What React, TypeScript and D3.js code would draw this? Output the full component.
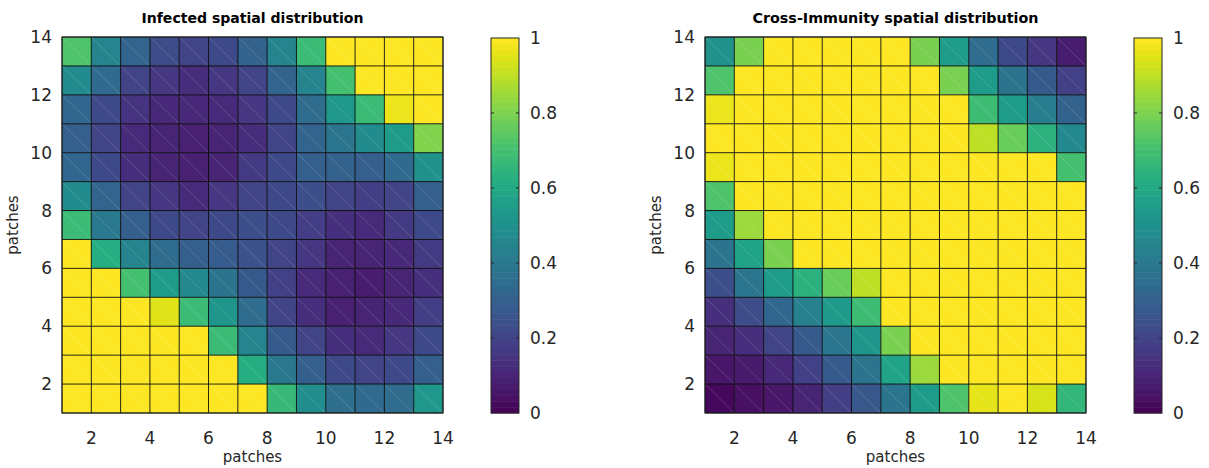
import React from 'react';
import * as d3 from 'd3';

// patch index grid (vertices 1..14, 13x13 cells)
const patchTicks = [2, 4, 6, 8, 10, 12, 14];
const colorTicks = [0, 0.2, 0.4, 0.6, 0.8, 1];

// rows listed from top (y 13..14) to bottom (y 1..2), columns x 1..13
const infected = [
  [0.72, 0.45, 0.32, 0.23, 0.2, 0.22, 0.31, 0.45, 0.68, 1, 1, 1, 1],
  [0.48, 0.34, 0.2, 0.16, 0.13, 0.16, 0.2, 0.32, 0.45, 0.7, 1, 1, 1],
  [0.33, 0.22, 0.15, 0.11, 0.11, 0.12, 0.16, 0.22, 0.35, 0.53, 0.68, 0.97, 1],
  [0.3, 0.2, 0.12, 0.1, 0.09, 0.1, 0.13, 0.2, 0.32, 0.39, 0.48, 0.55, 0.81],
  [0.33, 0.22, 0.13, 0.1, 0.09, 0.1, 0.17, 0.22, 0.3, 0.31, 0.3, 0.34, 0.5],
  [0.48, 0.32, 0.2, 0.16, 0.12, 0.16, 0.2, 0.22, 0.24, 0.2, 0.18, 0.2, 0.3],
  [0.68, 0.4, 0.3, 0.22, 0.2, 0.22, 0.24, 0.22, 0.18, 0.14, 0.12, 0.17, 0.22],
  [1, 0.62, 0.45, 0.35, 0.3, 0.29, 0.25, 0.2, 0.16, 0.1, 0.1, 0.11, 0.17],
  [1, 1, 0.7, 0.55, 0.47, 0.38, 0.28, 0.19, 0.12, 0.09, 0.08, 0.1, 0.14],
  [1, 1, 1, 0.95, 0.68, 0.52, 0.35, 0.2, 0.13, 0.09, 0.1, 0.11, 0.18],
  [1, 1, 1, 1, 1, 0.68, 0.45, 0.28, 0.2, 0.14, 0.12, 0.16, 0.22],
  [1, 1, 1, 1, 1, 1, 0.62, 0.4, 0.3, 0.22, 0.2, 0.22, 0.3],
  [1, 1, 1, 1, 1, 1, 1, 0.67, 0.49, 0.36, 0.34, 0.35, 0.53],
];

const immunity = [
  [0.5, 0.8, 1, 1, 1, 1, 1, 0.8, 0.55, 0.35, 0.22, 0.16, 0.08],
  [0.72, 1, 1, 1, 1, 1, 1, 1, 0.8, 0.55, 0.38, 0.28, 0.19],
  [0.97, 1, 1, 1, 1, 1, 1, 1, 1, 0.69, 0.55, 0.42, 0.31],
  [1, 1, 1, 1, 1, 1, 1, 1, 1, 0.9, 0.77, 0.64, 0.47],
  [0.97, 1, 1, 1, 1, 1, 1, 1, 1, 1, 1, 1, 0.7],
  [0.72, 1, 1, 1, 1, 1, 1, 1, 1, 1, 1, 1, 1],
  [0.55, 0.85, 1, 1, 1, 1, 1, 1, 1, 1, 1, 1, 1],
  [0.38, 0.58, 0.8, 1, 1, 1, 1, 1, 1, 1, 1, 1, 1],
  [0.24, 0.39, 0.55, 0.64, 0.77, 0.9, 1, 1, 1, 1, 1, 1, 1],
  [0.14, 0.23, 0.33, 0.43, 0.54, 0.69, 1, 1, 1, 1, 1, 1, 1],
  [0.1, 0.13, 0.2, 0.28, 0.39, 0.52, 0.8, 1, 1, 1, 1, 1, 1],
  [0.06, 0.07, 0.11, 0.19, 0.28, 0.38, 0.58, 0.85, 1, 1, 1, 1, 1],
  [0.02, 0.04, 0.06, 0.1, 0.18, 0.27, 0.38, 0.55, 0.72, 0.96, 1, 0.94, 0.66],
];

const FONT = '"DejaVu Sans", sans-serif';
const INK = '#262626';
const color = d3.scaleSequential(d3.interpolateViridis).domain([0, 1]);

type PanelProps = {
  left: number;
  title: string;
  titleWidth: number;
  data: number[][];
};

const Panel = ({ left, title, titleWidth, data }: PanelProps) => {
  const top = 37;
  const bottom = 413;
  const x = d3.scaleLinear().domain([1, 14]).range([left, left + 381]);
  const y = d3.scaleLinear().domain([1, 14]).range([bottom, top]);
  const n = data.length;

  const cells: any[] = [];
  data.forEach((row, i) => {
    const y0 = n - i; // lower edge value
    row.forEach((v, j) => {
      const x0 = j + 1;
      cells.push({ v, x1: x(x0), x2: x(x0 + 1), y1: y(y0 + 1), y2: y(y0) });
    });
  });

  const cbLeft = left + 429;
  const cbW = 28;
  const cy = d3.scaleLinear().domain([0, 1]).range([bottom, top + 1]);
  const steps = d3.range(64);

  return (
    <g fontFamily={FONT} fill={INK}>
      <text
        x={x(7.5)}
        y={23}
        textAnchor="middle"
        fontWeight="bold"
        fontSize={14}
        fill="#000"
        textLength={titleWidth}
        lengthAdjust="spacingAndGlyphs"
      >
        {title}
      </text>
      {cells.map((c, k) => (
        <g key={k}>
          <rect x={c.x1} y={c.y1} width={c.x2 - c.x1} height={c.y2 - c.y1} fill={color(c.v)} />
          <line x1={c.x1} y1={c.y1} x2={c.x2} y2={c.y2} stroke="#fff" strokeOpacity={0.22} strokeWidth={0.7} />
        </g>
      ))}
      {d3.range(1, 15).map((t) => (
        <g key={t}>
          <line x1={x(t)} x2={x(t)} y1={top} y2={bottom} stroke="#000" strokeOpacity={0.85} />
          <line x1={left} x2={left + 381} y1={y(t)} y2={y(t)} stroke="#000" strokeOpacity={0.85} />
        </g>
      ))}
      <rect x={left} y={top} width={381} height={bottom - top} fill="none" stroke={INK} />
      {patchTicks.map((t) => (
        <text key={'x' + t} x={x(t)} y={444} textAnchor="middle" fontSize={17}>
          {t}
        </text>
      ))}
      {patchTicks.map((t) => (
        <text key={'y' + t} x={left - 10} y={y(t) + 6} textAnchor="end" fontSize={17}>
          {t}
        </text>
      ))}
      <text x={x(7.5)} y={462} textAnchor="middle" fontSize={15}>
        patches
      </text>
      <text transform={`translate(${left - 44},${(top + bottom) / 2}) rotate(-90)`} textAnchor="middle" fontSize={15}>
        patches
      </text>

      {steps.map((s) => (
        <rect
          key={s}
          x={cbLeft}
          y={cy((s + 1) / 64)}
          width={cbW}
          height={cy(s / 64) - cy((s + 1) / 64) + 0.5}
          fill={color((s + 0.5) / 64)}
        />
      ))}
      <rect x={cbLeft} y={cy(1)} width={cbW} height={cy(0) - cy(1)} fill="none" stroke={INK} />
      {colorTicks.map((t) => (
        <g key={t}>
          {t > 0 && t < 1 && (
            <>
              <line x1={cbLeft} x2={cbLeft + 3} y1={cy(t)} y2={cy(t)} stroke={INK} />
              <line x1={cbLeft + cbW - 3} x2={cbLeft + cbW} y1={cy(t)} y2={cy(t)} stroke={INK} />
            </>
          )}
          <text x={cbLeft + cbW + 11} y={cy(t) + 6} fontSize={17}>
            {t}
          </text>
        </g>
      ))}
    </g>
  );
};

export default function App() {
  return (
    <svg width={1209} height={468} style={{ position: 'absolute', left: 0, top: 0, background: '#fff' }}>
      <Panel left={62} title="Infected spatial distribution" titleWidth={222} data={infected} />
      <Panel left={705} title="Cross-Immunity spatial distribution" titleWidth={286} data={immunity} />
    </svg>
  );
}
